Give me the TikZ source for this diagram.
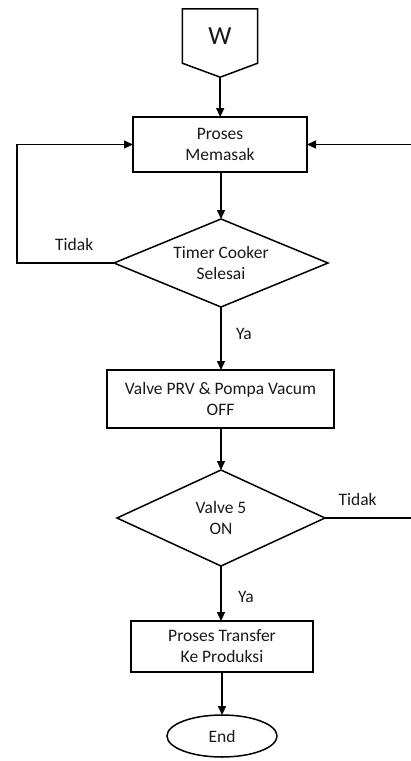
\documentclass[tikz,border=0pt]{standalone}
\usepackage{fontspec}
\setmainfont{Carlito}
\usepackage{tikz}
\usetikzlibrary{arrows.meta, positioning, shapes.geometric}

\begin{document}
\begin{tikzpicture}[
        x=1pt, y=-1pt,
        font=\fontsize{17.5}{21}\selectfont,
        every node/.style={text=black!90},
        block/.style={rectangle, draw, line width=1.5pt, align=center, inner sep=2pt, outer sep=0pt},
        decision/.style={diamond, draw, line width=1.5pt, align=center, inner sep=0pt, outer sep=0pt, aspect=2.4},
        terminal/.style={ellipse, draw, line width=1.5pt, outer sep=0pt, minimum width=110pt, minimum height=42pt},
        line/.style={draw, line width=1.5pt, -{Triangle[length=9pt, width=8pt]}},
        plain/.style={draw, line width=1.5pt}
    ]
    \useasboundingbox (0,0) rectangle (411,761);

    % penghubung W
    \node[minimum width=75pt, minimum height=54pt, font=\fontsize{26}{30}\selectfont] (w) at (220,36) {W};
    \draw[plain] (w.north west) -- (w.north east) -- (w.south east) -- ++(-37.5,14) coordinate (wtip) -- (w.south west) -- cycle;

    % alur utama
    \node[block, minimum width=174pt, minimum height=55pt] (masak) at (220,144.5) {Proses\\Memasak};
    \node[decision, minimum width=214pt, minimum height=88pt] (timer) at (221,263) {Timer Cooker\\Selesai};
    \node[block, minimum width=227pt, minimum height=58pt] (prv) at (220.5,399) {Valve PRV \& Pompa Vacum\\OFF};
    \node[decision, minimum width=208pt, minimum height=96pt] (valve5) at (221,518) {Valve 5\\ON};
    \node[block, minimum width=182pt, minimum height=51pt] (transfer) at (222,646.5) {Proses Transfer\\Ke Produksi};
    \node[terminal] (end) at (222,736) {End};

    % ujung bebas
    \coordinate (kiri) at (17,263);
    \coordinate (kanan1) at (411,144.5);
    \coordinate (kanan2) at (411,518);

    % panah
    \path [line] (wtip) -- (wtip |- masak.north);
    \path [line] (masak.south -| timer.north) -- (timer.north);
    \path [line] (timer.west) -- node[pos=0.41, above=8pt] {Tidak} (kiri) |- (masak.west);
    \path [line] (kanan1) -- (masak.east);
    \path [line] (timer.south) -- node[pos=0.42, right=11pt] {Ya} (timer.south |- prv.north);
    \path [line] (prv.south -| valve5.north) -- (valve5.north);
    \path [plain] (valve5.east) -- node[pos=0.38, above=8pt] {Tidak} (kanan2);
    \path [line] (valve5.south) -- node[pos=0.56, right=13pt] {Ya} (valve5.south |- transfer.north);
    \path [line] (transfer.south -| end.north) -- (end.north);

\end{tikzpicture}
\end{document}
